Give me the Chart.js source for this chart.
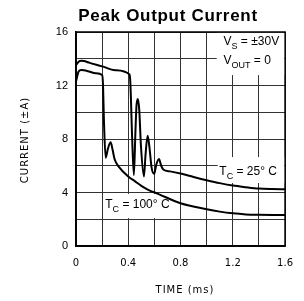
<!DOCTYPE html>
<html>
<head>
<meta charset="utf-8">
<script src="https://cdn.jsdelivr.net/npm/chart.js@4.4.0/dist/chart.umd.min.js"></script>
<style>
  html, body { margin: 0; padding: 0; background: #fff; }
</style>
</head>
<body>
<canvas id="chart" width="304" height="301"></canvas>
<script>
// Peak output current vs time
const time25 = [0, 0.02, 0.04, 0.06, 0.1, 0.2, 0.3, 0.41, 0.416, 0.43, 0.443, 0.455, 0.463, 0.473, 0.484, 0.497, 0.52, 0.532, 0.548, 0.562, 0.578, 0.598, 0.615, 0.635, 0.652, 0.67, 0.72, 0.8, 0.9, 1.0, 1.1, 1.2, 1.3, 1.4, 1.5, 1.6];
const current25 = [13.5, 13.78, 13.85, 13.83, 13.71, 13.43, 13.14, 12.82, 12.2, 8.0, 5.3, 8.6, 10.5, 11.0, 10.2, 7.5, 5.2, 6.8, 8.25, 7.4, 5.9, 5.4, 6.1, 6.5, 6.0, 5.7, 5.58, 5.42, 5.16, 4.92, 4.7, 4.52, 4.4, 4.3, 4.26, 4.24];

const time100 = [0, 0.02, 0.04, 0.06, 0.1, 0.15, 0.2, 0.206, 0.215, 0.227, 0.245, 0.265, 0.28, 0.295, 0.33, 0.4, 0.45, 0.5, 0.553, 0.628, 0.8, 1.0, 1.1, 1.2, 1.3, 1.4, 1.5, 1.6];
const current100 = [12.3, 13.05, 13.16, 13.14, 13.05, 12.92, 12.78, 12.2, 9.0, 6.6, 7.3, 7.75, 7.2, 6.5, 5.9, 5.2, 4.85, 4.5, 4.2, 3.9, 3.2, 2.75, 2.57, 2.44, 2.36, 2.33, 2.32, 2.32];

const xTickLabels = ['0', '0.4', '0.8', '1.2', '1.6'];
const yTickLabels = ['0', '4', '8', '12', '16'];

function points(xs, ys) {
    return xs.map((x, i) => ({ x: x, y: ys[i] }));
}

// label with a subscript, e.g. V_S = ±30V
function subLabel(ctx, x, y, main, sub, rest) {
    ctx.font = '12px "Liberation Sans"';
    ctx.fillText(main, x, y);
    x += ctx.measureText(main).width;
    ctx.font = '9px "Liberation Sans"';
    ctx.fillText(sub, x, y + 4);
    x += ctx.measureText(sub).width;
    ctx.font = '12px "Liberation Sans"';
    ctx.fillText(rest, x, y);
}

const notesPlugin = {
    id: 'notes',
    beforeDatasetsDraw(chart) {
        const ctx = chart.ctx;
        const xs = chart.scales.x, ys = chart.scales.y;
        const area = chart.chartArea;
        const box = (x0, x1, y0, y1) => {
            const l = xs.getPixelForValue(x0), r = xs.getPixelForValue(x1);
            const t = ys.getPixelForValue(y1), b = ys.getPixelForValue(y0);
            ctx.fillRect(l, t, r - l, b - t);
        };
        ctx.save();
        // outer frame
        ctx.strokeStyle = '#000';
        ctx.lineWidth = 1.5;
        ctx.strokeRect(area.left, area.top, area.right - area.left, area.bottom - area.top);
        ctx.fillStyle = '#fff';
        box(1.077, 1.593, 12.78, 15.93);
        box(1.084, 1.593, 4.71, 6.65);
        box(0.209, 0.74, 2.09, 3.89);
        ctx.fillStyle = '#000';
        ctx.textBaseline = 'alphabetic';
        ctx.textAlign = 'left';
        subLabel(ctx, xs.getPixelForValue(1.129), ys.getPixelForValue(15.03), 'V', 'S', ' = \u00b130V');
        subLabel(ctx, xs.getPixelForValue(1.129), ys.getPixelForValue(13.64), 'V', 'OUT', ' = 0');
        subLabel(ctx, xs.getPixelForValue(1.097), ys.getPixelForValue(5.31), 'T', 'C', ' = 25\u00b0 C');
        subLabel(ctx, xs.getPixelForValue(0.224), ys.getPixelForValue(2.82), 'T', 'C', ' = 100\u00b0 C');
        ctx.restore();
    },
    afterDraw(chart) {
        const ctx = chart.ctx;
        ctx.save();
        ctx.fillStyle = '#000';
        ctx.textAlign = 'center';
        ctx.textBaseline = 'alphabetic';
        ctx.font = 'bold 17px "Liberation Sans"';
        ctx.letterSpacing = '0.7px';
        ctx.fillText('Peak Output Current', 168, 21);
        ctx.letterSpacing = '1px';
        ctx.font = '10px "DejaVu Sans"';
        ctx.textBaseline = 'middle';
        ctx.fillText('TIME (ms)', 185, 290);
        ctx.translate(25, 140);
        ctx.rotate(-Math.PI / 2);
        ctx.fillText('CURRENT (\u00b1A)', 0, 0);
        ctx.restore();
    }
};

const lineStyle = {
    borderColor: '#000',
    borderWidth: 2,
    pointRadius: 0,
    fill: false,
    cubicInterpolationMode: 'monotone'
};

new Chart(document.getElementById('chart'), {
    type: 'line',
    data: {
        datasets: [
            Object.assign({ label: 'TC = 25', data: points(time25, current25) }, lineStyle),
            Object.assign({ label: 'TC = 100', data: points(time100, current100) }, lineStyle)
        ]
    },
    options: {
        responsive: false,
        animation: false,
        devicePixelRatio: 1,
        layout: { padding: { top: 32, right: 14, left: 0, bottom: 0 } },
        plugins: {
            legend: { display: false },
            tooltip: { enabled: false }
        },
        scales: {
            x: {
                type: 'linear',
                min: 0,
                max: 1.6,
                afterFit: s => { s.height = 55; },
                afterBuildTicks: s => { s.ticks = [0, 0.2, 0.4, 0.6, 0.8, 1.0, 1.2, 1.4, 1.6].map(v => ({ value: v })); },
                grid: { color: '#333', lineWidth: 1, drawTicks: false },
                border: { color: '#000', width: 1.5 },
                ticks: {
                    padding: 11,
                    color: '#000',
                    font: { family: 'DejaVu Sans', size: 10 },
                    maxRotation: 0,
                    autoSkip: false,
                    callback: (v, i) => i % 2 === 0 ? xTickLabels[i / 2] : ''
                }
            },
            y: {
                min: 0,
                max: 16,
                afterFit: s => { s.width = 76; },
                ticks: {
                    stepSize: 2,
                    padding: 8,
                    color: '#000',
                    font: { family: 'Liberation Sans', size: 11 },
                    callback: (v, i) => i % 2 === 0 ? yTickLabels[i / 2] : ''
                },
                grid: { color: '#333', lineWidth: 1, drawTicks: false },
                border: { color: '#000', width: 1.5 }
            }
        }
    },
    plugins: [notesPlugin]
});
</script>
</body>
</html>
